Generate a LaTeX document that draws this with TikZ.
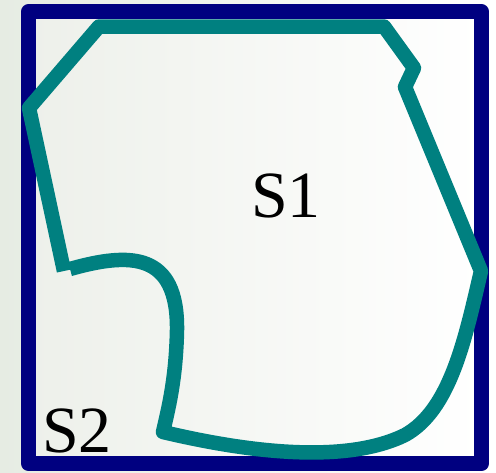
\documentclass[tikz,border=0pt]{standalone}
\usepackage{fontspec}
\setmainfont{Liberation Serif}
\definecolor{navyc}{HTML}{000080}
\definecolor{tealc}{HTML}{008080}
\definecolor{bgl}{HTML}{E6ECE3}
\definecolor{inl}{HTML}{EDF0EA}
\begin{document}
\begin{tikzpicture}[x=1pt,y=-1pt,
  frame/.style={draw=navyc,line width=15pt,line join=round},
  region/.style={draw=tealc,line width=14.5pt,line join=round,line cap=butt},
  lbl/.style={font=\fontsize{66}{66}\selectfont,text=black,inner sep=0pt}]
\useasboundingbox (0,0) rectangle (496,472);
\shade[left color=bgl,right color=white] (0,0) rectangle (496,472);
\shade[left color=inl,right color=white] (28.5,11.8) rectangle (481.5,463.5);
\draw[frame] (28.5,11.8) rectangle (481.5,463.5);
\draw[region] (70,269) .. controls (130,252) and (178,252) .. (177,330)
  .. controls (176,380) and (168,410) .. (163,432)
  .. controls (260,455) and (350,462) .. (405,435)
  .. controls (450,410) and (465,340) .. (481,271)
  -- (405,87) -- (414,68) -- (384,26.5) -- (99,26.5) -- (29,108) -- (64,271);
\node[lbl] (s1) at (286,196) {S1};
\node[lbl] (s2) at (77,431) {S2};
\end{tikzpicture}
\end{document}
